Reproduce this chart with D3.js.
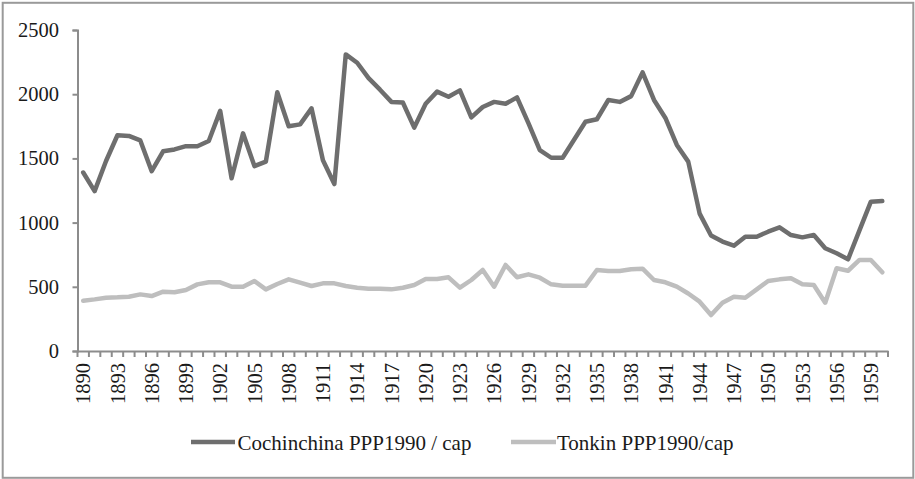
<!DOCTYPE html>
<html>
<head>
<meta charset="utf-8">
<script src="https://cdn.jsdelivr.net/npm/d3@7"></script>
<style>
  html, body { margin: 0; padding: 0; background: #fff; }
  svg { display: block; }
  text { font-family: "Liberation Serif", "Times New Roman", serif; fill: #1a1a1a; }
</style>
</head>
<body>
<svg id="chart" width="915" height="479"></svg>
<script>
const years = d3.range(1890, 1961);
const cochinchina = [
  1390, 1245, 1480, 1680, 1675, 1640, 1400, 1555, 1570, 1595,
  1595, 1635, 1870, 1345, 1695, 1440, 1475, 2015, 1750, 1765,
  1890, 1485, 1300, 2310, 2245, 2125, 2035, 1940, 1935, 1740,
  1925, 2020, 1980, 2030, 1820, 1900, 1940, 1925, 1975, 1775,
  1565, 1505, 1505, 1645, 1785, 1805, 1955, 1940, 1985, 2170,
  1955, 1815, 1605, 1475, 1070, 900, 852, 820, 890, 890,
  929, 963, 903, 885, 903, 800, 761, 714, 940, 1163,
  1168
];
const tonkin = [
  392, 402, 415, 418, 423, 441, 428, 462, 457, 475,
  519, 535, 535, 501, 501, 545, 480, 522, 558, 532,
  506, 527, 527, 506, 493, 485, 485, 480, 493, 514,
  561, 561, 574, 493, 553, 631, 501, 670, 574, 597,
  571, 519, 509, 509, 509, 631, 623, 623, 636, 641,
  553, 535, 501, 448, 384, 280, 376, 423, 415, 480,
  545, 558, 566, 519, 514, 376, 644, 625, 709, 709,
  613
];
const yTicks = [0, 500, 1000, 1500, 2000, 2500];
const seriesNames = ["Cochinchina PPP1990 / cap", "Tonkin PPP1990/cap"];
const seriesColors = ["#6e6e6e", "#bebebe"];

const svg = d3.select("#chart");

// outer border
svg.append("rect")
  .attr("x", 2.7).attr("y", 2.8)
  .attr("width", 910.6).attr("height", 475)
  .attr("fill", "none").attr("stroke", "#9a9a9a").attr("stroke-width", 2);

const mLeft = 77.5, mRight = 888, mTop = 30, mBottom = 351;
const x = d3.scaleBand().domain(years).range([mLeft, mRight]).padding(0);
const y = d3.scaleLinear().domain([0, 2500]).range([mBottom, mTop]);
const cx = d => x(d) + x.bandwidth() / 2;

const axisColor = "#8c8c8c";

// Y axis
const yAxis = svg.append("g")
  .attr("transform", `translate(${mLeft},0)`)
  .call(d3.axisLeft(y).tickValues(yTicks).tickSize(5).tickPadding(13.5).tickFormat(d3.format("d")));
yAxis.select(".domain").attr("stroke", axisColor).attr("stroke-width", 2);
yAxis.selectAll(".tick line").attr("stroke", axisColor).attr("stroke-width", 2);
yAxis.selectAll(".tick text")
  .style("font-size", "20.5px").attr("fill", "#1a1a1a")
  .style("font-family", "'Liberation Serif', serif");

// X axis (labels every 3 years)
const xAxis = svg.append("g")
  .attr("transform", `translate(0,${mBottom})`)
  .call(d3.axisBottom(x).tickSize(0).tickFormat((d, i) => (i % 3 === 0 ? d : "")));
xAxis.select(".domain").attr("stroke", axisColor).attr("stroke-width", 2);
xAxis.selectAll(".tick text")
  .style("font-size", "20.5px").attr("fill", "#1a1a1a")
  .style("font-family", "'Liberation Serif', serif")
  .attr("text-anchor", "end")
  .attr("transform", "rotate(-90)")
  .attr("x", -12).attr("y", 0).attr("dy", "0.35em");

// boundary ticks between categories
const boundaries = years.map(d => x(d)).concat([x.range()[1]]);
svg.append("g").selectAll("line").data(boundaries).join("line")
  .attr("x1", d => d).attr("x2", d => d)
  .attr("y1", mBottom).attr("y2", mBottom + 6)
  .attr("stroke", axisColor).attr("stroke-width", 2);

// lines
const line = d3.line().x((d, i) => cx(years[i])).y(d => y(d)).curve(d3.curveLinear);
[cochinchina, tonkin].forEach((s, k) => {
  svg.append("path").datum(s)
    .attr("d", line)
    .attr("fill", "none")
    .attr("stroke", seriesColors[k])
    .attr("stroke-width", 4.5)
    .attr("stroke-linejoin", "round")
    .attr("stroke-linecap", "round");
});

// legend
const legendItems = [
  { x1: 191, x2: 235, tx: 237.5 },
  { x1: 511, x2: 556, tx: 557 }
];
legendItems.forEach((it, k) => {
  svg.append("line")
    .attr("x1", it.x1).attr("x2", it.x2).attr("y1", 442).attr("y2", 442)
    .attr("stroke", seriesColors[k]).attr("stroke-width", 4.5);
  svg.append("text")
    .attr("x", it.tx).attr("y", 449.5)
    .style("font-size", "21px")
    .text(seriesNames[k]);
});
</script>
</body>
</html>
